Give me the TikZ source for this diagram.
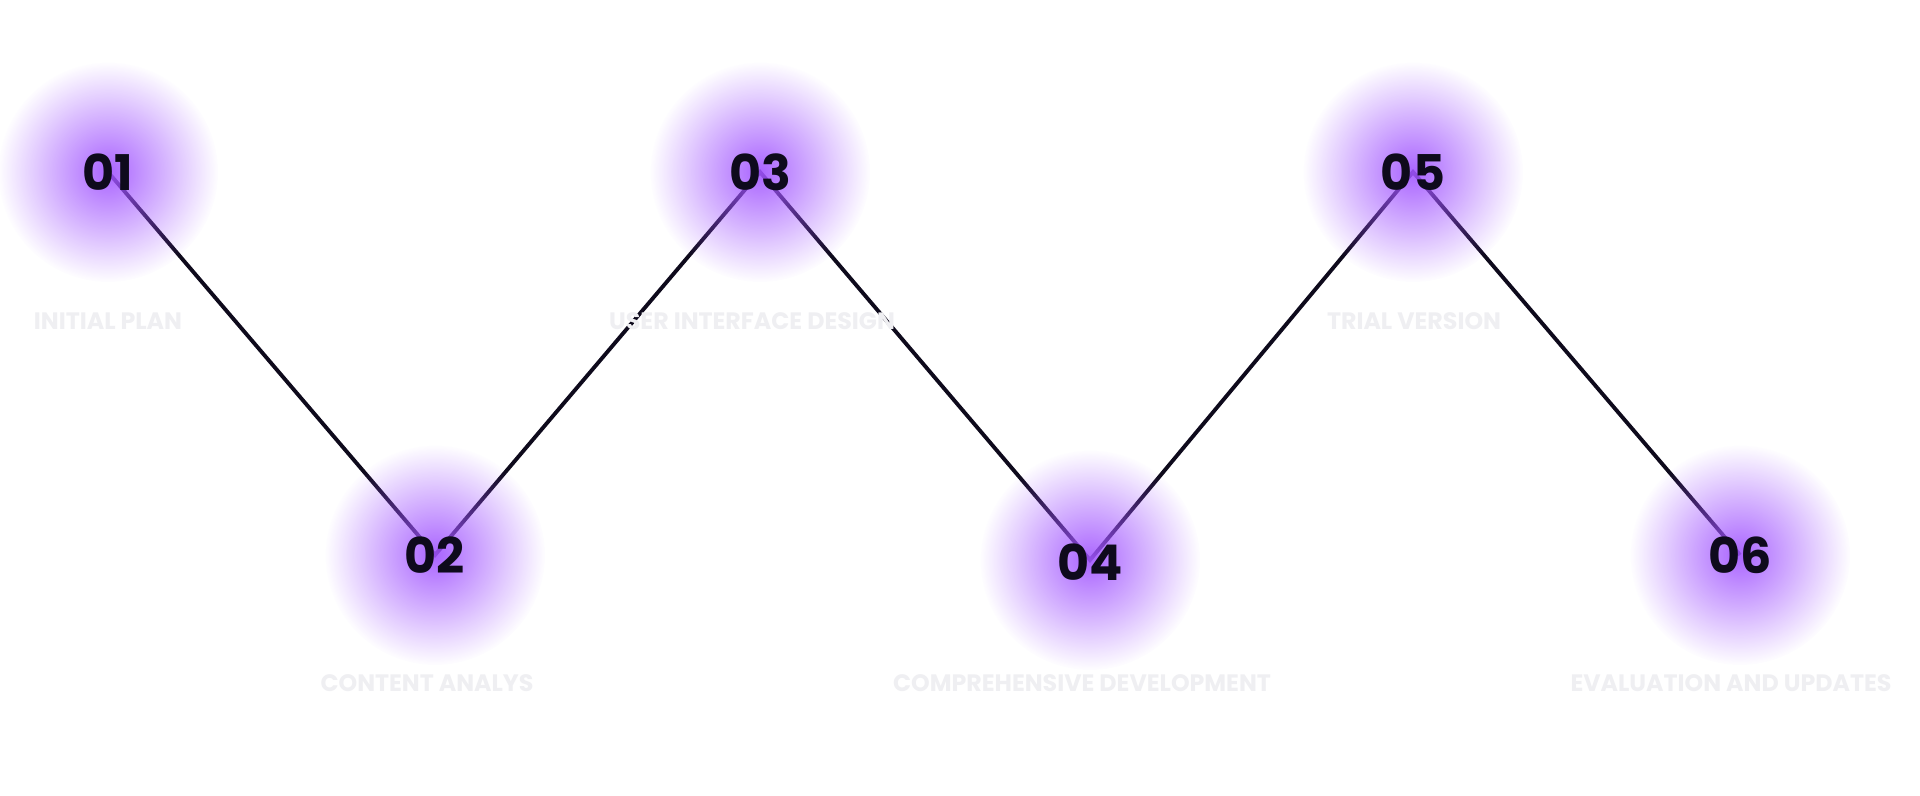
\documentclass[tikz,border=0pt]{standalone}
\usepackage{fontspec}
\setmainfont{Poppins}
\usetikzlibrary{fadings}
\definecolor{glowc}{HTML}{A154FF}
\definecolor{ink}{HTML}{0E0A1C}
\definecolor{lab}{HTML}{EFEFF2}
\tikzfading[name=glowfade, inner color=transparent!0, outer color=transparent!100]
\begin{document}
\begin{tikzpicture}[x=0.02cm,y=-0.02cm,
  link/.style={ink, line width=2.2pt},
  glow/.style={fill=glowc, path fading=glowfade, fill opacity=0.9},
  num/.style={text=ink, font=\fontsize{28}{30}\selectfont\bfseries, inner sep=0pt},
  lbl/.style={text=lab, font=\fontsize{13.5}{15}\selectfont\bfseries, inner sep=0pt}]
\useasboundingbox[fill=white] (0,0) rectangle (1920,795);
\coordinate (c1) at (108,172);
\coordinate (c2) at (435,555);
\coordinate (c3) at (760,172);
\coordinate (c4) at (1090,560);
\coordinate (c5) at (1413,172);
\coordinate (c6) at (1740,555);
\draw[link] (c1) -- (c2) -- (c3) -- (c4) -- (c5) -- (c6);
\node[lbl] (l1) at (108,321) {INITIAL PLAN};
\node[lbl] (l2) at (427,683) {CONTENT ANALYS};
\node[lbl] (l3) at (752,321) {USER INTERFACE DESIGN};
\node[lbl] (l4) at (1082,683) {COMPREHENSIVE DEVELOPMENT};
\node[lbl] (l5) at (1414,321) {TRIAL VERSION};
\node[lbl] (l6) at (1731,683) {EVALUATION AND UPDATES};
\foreach \i in {1,...,6}{
  \fill[glow] (c\i) circle (110);
}
\node[num] (n1) at (108,172) {01};
\node[num] (n2) at (435,555) {02};
\node[num] (n3) at (760,172) {03};
\node[num] (n4) at (1090,562) {04};
\node[num] (n5) at (1413,172) {05};
\node[num] (n6) at (1740,555) {06};
\end{tikzpicture}
\end{document}
